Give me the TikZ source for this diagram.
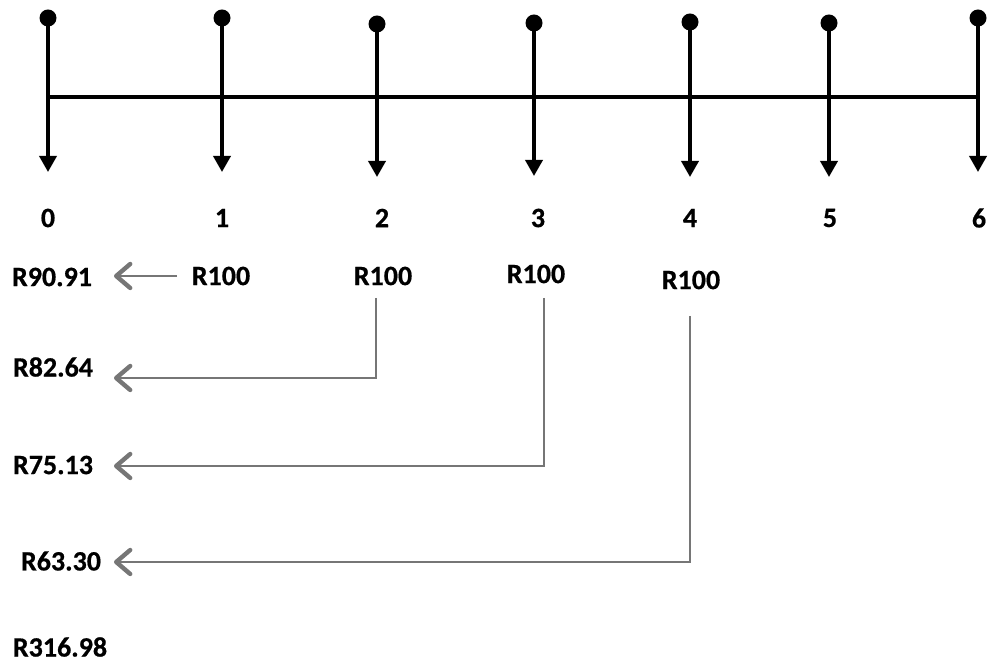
\documentclass[tikz,border=0pt]{standalone}
\usepackage{fontspec}
\setmainfont{Carlito}[BoldFeatures={FakeBold=0.6}]
\usetikzlibrary{arrows.meta}
\definecolor{lgray}{RGB}{118,118,118}
\tikzset{
  lbl/.style={font=\fontsize{14}{16}\selectfont\bfseries, inner sep=0pt, anchor=center},
  dot/.style={circle, fill=black, inner sep=0pt, minimum size=8.5pt},
  tick/.style={line width=1.8pt, -{Triangle[length=8pt,width=8.5pt]}},
  axis/.style={line width=1.9pt},
  gline/.style={draw=lgray, line width=1.1pt, -{Straight Barb[length=7pt,width=12pt,line width=2.2pt,round]}}
}
\begin{document}
\begin{tikzpicture}[x=0.5pt,y=-0.5pt]
\useasboundingbox (0,0) rectangle (992,662);
% ticks
\foreach \i/\x/\yd/\yt in {0/48/18/172, 1/222/18/172, 2/377/24/177, 3/534/23/176, 4/690/22/177, 5/829/23/177, 6/978/18/172}{
  \node[dot] (d\i) at (\x,\yd) {};
  \coordinate (t\i) at (\x,\yt);
  \coordinate (a\i) at (\x,97);
  \draw[tick] (d\i.center) -- (t\i);
}
\draw[axis] (a0) -- (a6);
% period labels
\node[lbl] (n0) at (48,218) {0};
\node[lbl] (n1) at (222,218) {1};
\node[lbl] (n2) at (382,218) {2};
\node[lbl] (n3) at (538,218) {3};
\node[lbl] (n4) at (690,218) {4};
\node[lbl] (n5) at (830,218) {5};
\node[lbl] (n6) at (979,218) {6};
% amounts
\node[lbl] (r1) at (221,276) {R100};
\node[lbl] (r2) at (383,276) {R100};
\node[lbl] (r3) at (536,274) {R100};
\node[lbl] (r4) at (691,280) {R100};
% present values
\node[lbl] (p1) at (52,277) {R90.91};
\node[lbl] (p2) at (53,367) {R82.64};
\node[lbl] (p3) at (53,465) {R75.13};
\node[lbl] (p4) at (61,561) {R63.30};
\node[lbl] (p5) at (60,647) {R316.98};
% connectors
\coordinate (s1) at (177,276);
\coordinate (e1) at (114,276);
\coordinate (s2) at (376,298);
\coordinate (e2) at (114,378);
\coordinate (s3) at (544,298);
\coordinate (e3) at (114,466);
\coordinate (s4) at (690,316);
\coordinate (e4) at (114,562);
\draw[gline] (s1) -- (e1);
\draw[gline] (s2) |- (e2);
\draw[gline] (s3) |- (e3);
\draw[gline] (s4) |- (e4);
\end{tikzpicture}
\end{document}
